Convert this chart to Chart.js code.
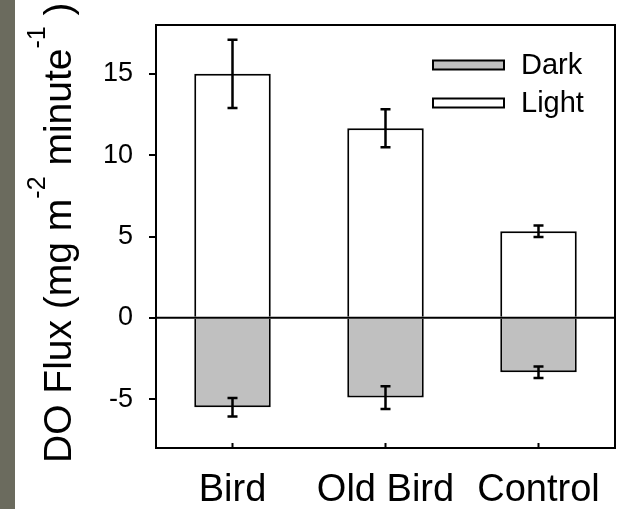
<!DOCTYPE html>
<html>
<head>
<meta charset="utf-8">
<script src="https://cdn.jsdelivr.net/npm/chart.js@4.4.1/dist/chart.umd.min.js"></script>
<style>
	html, body { margin: 0; padding: 0; background: #fff; }
	#wrap { position: relative; width: 621px; height: 509px; }
	#strip { position: absolute; left: 0; top: 0; width: 15px; height: 509px; background: #6b6b5e; }
	canvas { position: absolute; left: 0; top: 0; }
</style>
</head>
<body>
<div id="wrap">
	<canvas id="fluxChart" width="621" height="509"></canvas>
	<div id="strip"></div>
</div>
<script>
// treatments on the x axis
const categories = ['Bird', 'Old Bird', 'Control'];

// light incubations (positive flux) and their errors
const lightMean = [15.0, 11.65, 5.32];
const lightErr = [2.1, 1.17, 0.35];

// dark incubations (negative flux) and their errors
const darkMean = [-5.5, -4.9, -3.34];
const darkErr = [0.57, 0.7, 0.35];

const yTicks = [-5, 0, 5, 10, 15];
const yMin = -8, yMax = 18;

const FONT = 'Arial, "Liberation Sans", sans-serif';

// error bars, zero line, frame and inward x ticks
const decorPlugin = {
	id: 'decor',
	afterDatasetsDraw(chart) {
		const ctx = chart.ctx;
		const area = chart.chartArea;
		const x = chart.scales.x, y = chart.scales.y;
		ctx.save();
		ctx.strokeStyle = '#000';

		// zero line
		ctx.lineWidth = 2;
		ctx.beginPath();
		ctx.moveTo(area.left, y.getPixelForValue(0));
		ctx.lineTo(area.right, y.getPixelForValue(0));
		ctx.stroke();

		// error bars
		chart.data.datasets.forEach((ds, i) => {
			const meta = chart.getDatasetMeta(i);
			meta.data.forEach((bar, j) => {
				const v = ds.data[j], e = ds.errors[j];
				const yTop = y.getPixelForValue(v + e);
				const yBot = y.getPixelForValue(v - e);
				ctx.lineWidth = 2.5;
				ctx.beginPath();
				ctx.moveTo(bar.x, yTop);
				ctx.lineTo(bar.x, yBot);
				ctx.moveTo(bar.x - 5, yTop);
				ctx.lineTo(bar.x + 5, yTop);
				ctx.moveTo(bar.x - 5, yBot);
				ctx.lineTo(bar.x + 5, yBot);
				ctx.stroke();
			});
		});

		// frame
		ctx.lineWidth = 2;
		ctx.strokeRect(area.left, area.top, area.right - area.left, area.bottom - area.top);

		// x ticks point into the plot
		x.ticks.forEach((t, k) => {
			const px = x.getPixelForTick(k);
			ctx.beginPath();
			ctx.moveTo(px, area.bottom);
			ctx.lineTo(px, area.bottom - 5);
			ctx.stroke();
		});
		ctx.restore();
	}
};

// legend inside the plot, dark on top
const legendPlugin = {
	id: 'boxLegend',
	afterDraw(chart) {
		const ctx = chart.ctx;
		const items = chart.data.datasets.slice().reverse();
		ctx.save();
		ctx.font = '29px ' + FONT;
		ctx.textBaseline = 'middle';
		items.forEach((ds, i) => {
			const cy = 65 + i * 38;
			ctx.fillStyle = ds.backgroundColor;
			ctx.fillRect(433, cy - 4.5, 71, 9);
			ctx.lineWidth = 2;
			ctx.strokeStyle = '#000';
			ctx.strokeRect(433, cy - 4.5, 71, 9);
			ctx.fillStyle = '#000';
			ctx.fillText(ds.label, 521, cy + 1);
		});
		ctx.restore();
	}
};

// rotated y title with superscripts
const yTitlePlugin = {
	id: 'yTitle',
	afterDraw(chart) {
		const ctx = chart.ctx;
		const parts = [
			{ t: 'DO Flux (mg m', sup: false },
			{ t: '-2', sup: true },
			{ t: ' minute', sup: false },
			{ t: '-1', sup: true },
			{ t: ' )', sup: false }
		];
		ctx.save();
		ctx.translate(71, 463);
		ctx.rotate(-Math.PI / 2);
		ctx.fillStyle = '#000';
		ctx.textBaseline = 'alphabetic';
		ctx.textAlign = 'left';
		let pos = 0;
		parts.forEach(p => {
			ctx.font = (p.sup ? '25px ' : '39px ') + FONT;
			ctx.fillText(p.t, pos, p.sup ? -26 : 0);
			pos += ctx.measureText(p.t).width;
		});
		ctx.restore();
	}
};

const ctx = document.getElementById('fluxChart').getContext('2d');
new Chart(ctx, {
	type: 'bar',
	data: {
		labels: categories,
		datasets: [
			{
				label: 'Light',
				data: lightMean,
				errors: lightErr,
				backgroundColor: '#ffffff',
				borderColor: '#000',
				borderWidth: 2
			},
			{
				label: 'Dark',
				data: darkMean,
				errors: darkErr,
				backgroundColor: '#c0c0c0',
				borderColor: '#000',
				borderWidth: 2
			}
		]
	},
	options: {
		responsive: false,
		animation: false,
		layout: { padding: { left: 0, top: 25, right: 6, bottom: 0 } },
		datasets: { bar: { categoryPercentage: 1.0, barPercentage: 0.5 } },
		plugins: {
			legend: { display: false },
			tooltip: { enabled: false }
		},
		scales: {
			x: {
				stacked: true,
				grid: { display: false },
				border: { display: false },
				ticks: {
					color: '#000',
					font: { family: FONT, size: 38 },
					padding: 12,
					maxRotation: 0,
					autoSkip: false
				},
				afterFit(scale) {
					scale.height = 61;
					scale.paddingLeft = 0;
					scale.paddingRight = 0;
				}
			},
			y: {
				stacked: true,
				min: yMin,
				max: yMax,
				afterBuildTicks(scale) { scale.ticks = yTicks.map(v => ({ value: v })); },
				grid: {
					drawOnChartArea: false,
					drawTicks: true,
					tickLength: 7,
					color: '#000',
					lineWidth: 2
				},
				border: { display: true, color: '#000', width: 2 },
				ticks: {
					color: '#000',
					font: { family: FONT, size: 27 },
					padding: 16
				},
				afterFit(scale) {
					scale.width = 156;
					scale.paddingTop = 0;
					scale.paddingBottom = 0;
				}
			}
		}
	},
	plugins: [decorPlugin, legendPlugin, yTitlePlugin]
});
</script>
</body>
</html>
